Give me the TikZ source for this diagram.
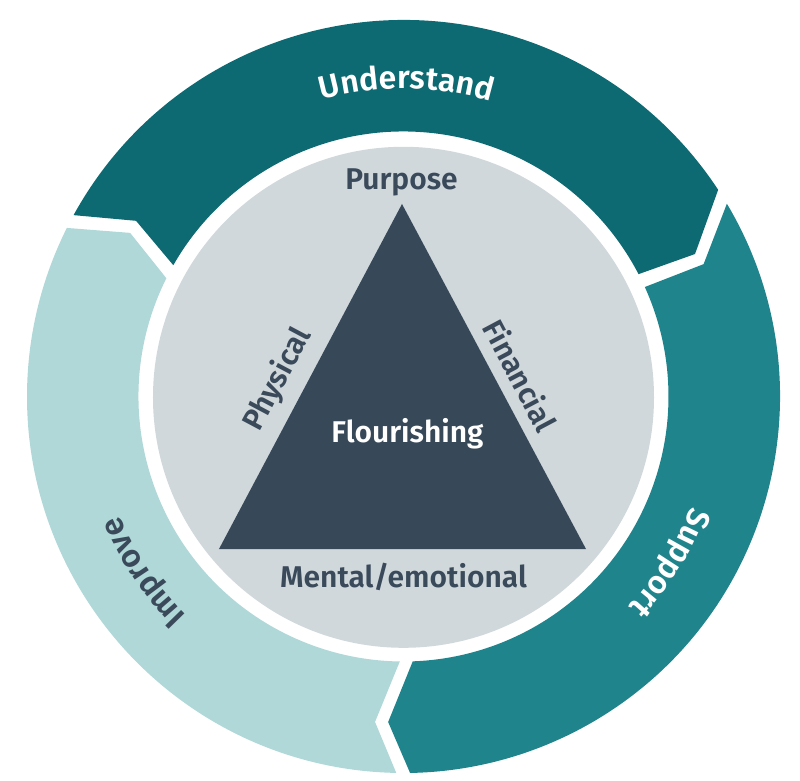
\documentclass[tikz,border=0pt]{standalone}
\usepackage{fontspec}
\setmainfont{Fira Sans}[BoldFont={Fira Sans SemiBold}]
\usetikzlibrary{decorations.text}
\definecolor{undc}{HTML}{0D6A72}
\definecolor{supc}{HTML}{20848C}
\definecolor{impc}{HTML}{B0D8D8}
\definecolor{greyc}{HTML}{D0D8DC}
\definecolor{tric}{HTML}{374859}
\definecolor{txtc}{HTML}{3A4A5A}
\newcommand\ringfont{\fontsize{32}{34}\selectfont\bfseries}
\begin{document}
\begin{tikzpicture}[x=1pt,y=1pt,
  lbl/.style={font=\fontsize{30}{32}\selectfont\bfseries, text=txtc, inner sep=0pt},
  ringtext/.style={decorate, decoration={text along path, text align=center, text={|\ringfont|#1}}}]
\useasboundingbox (-403.5,-384.5) rectangle (396.5,396.5);
\fill[white] (-403.5,-384.5) rectangle (396.5,396.5);
% ring segments
\fill[undc] (151.2:376.5) arc[start angle=151.2, end angle=33.3, radius=376.5]
  -- (26.05:324.5) -- (27.5:265) arc[start angle=27.5, end angle=150.3, radius=265]
  -- (146.7:320) -- cycle;
\fill[supc] (30.8:376.5) arc[start angle=30.8, end angle=-89, radius=376.5]
  -- (-92.7:325.9) -- (-88:265) arc[start angle=-88, end angle=24.4, radius=265]
  -- (23.8:328) -- cycle;
\fill[impc] (268.9:376.5) arc[start angle=268.9, end angle=153.4, radius=376.5]
  -- (149.1:318.6) -- (153.5:265) arc[start angle=153.5, end angle=269.2, radius=265]
  -- (265:326.7) -- cycle;
% inner disc and triangle
\fill[greyc] (0,-0.8) circle[radius=250.5];
\fill[tric] (-1.5,192.5) -- (-184.5,-152.5) -- (182.5,-152.5) -- cycle;
% ring labels
\path[ringtext=Understand, decoration={text color=white}] (119.4:308) arc[start angle=119.4, end angle=59.4, radius=308];
\path[ringtext=Support, decoration={text color=white}] (-2:308) arc[start angle=-2, end angle=-62, radius=308];
\path[ringtext=Improve, decoration={text color=txtc}] (244:308) arc[start angle=244, end angle=184, radius=308];
% inner labels
\node[lbl, anchor=base] (purpose) at (-2,206.5) {Purpose};
\node[lbl, anchor=base, text=white] (flour) at (4,-46.5) {Flourishing};
\node[lbl, anchor=base] (mental) at (0,-190.5) {Mental/emotional};
\node[lbl, rotate=62] (phys) at (-126,17) {Physical};
\node[lbl, rotate=-62] (fin) at (117,21) {Financial};
\end{tikzpicture}
\end{document}
